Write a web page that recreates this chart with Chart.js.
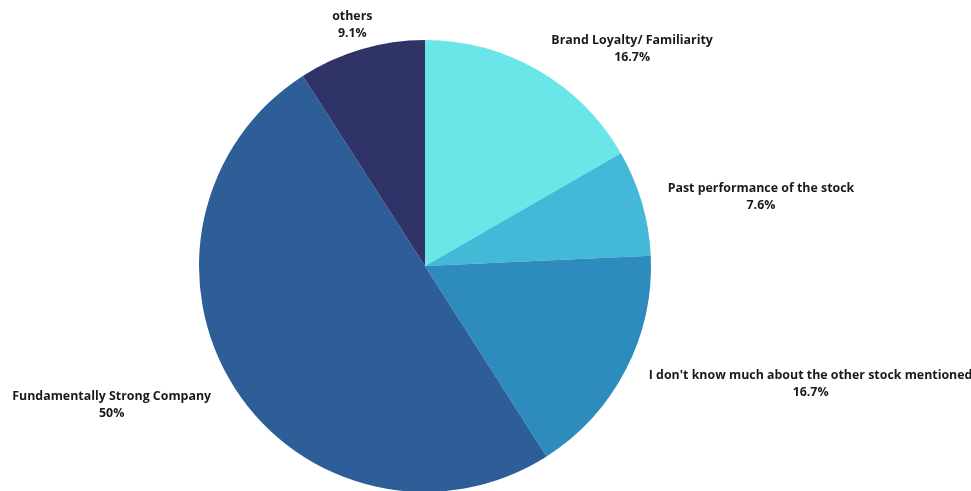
<!DOCTYPE html>
<html>
<head>
<meta charset="utf-8">
<script src="https://cdn.jsdelivr.net/npm/chart.js@4"></script>
<style>
    html, body { margin: 0; padding: 0; background: #ffffff; overflow: hidden; }
    #wrap { width: 971px; height: 492px; position: relative; }
</style>
</head>
<body>
<div id="wrap"><canvas id="pie-chart"></canvas></div>
<script>
// --- Data ---
const categories = [
    'Brand Loyalty/ Familiarity',
    'Past performance of the stock',
    "I don't know much about the other stock mentioned",
    'Fundamentally Strong Company',
    'others'
];
const shares = [16.7, 7.6, 16.7, 50, 9.1];
const shareLabels = ['16.7%', '7.6%', '16.7%', '50%', '9.1%'];
const sliceColors = ['#6be6e8', '#44b8d7', '#2d8bbd', '#2d5e98', '#2f3368'];

// label nudges from the slice's outer edge point (dx, dy)
const labelNudge = [[94, -21], [119, -6], [185, 14], [-123, 17], [-9, -24]];

// Draw the outside labels from each arc's own geometry
const outsideLabels = {
    id: 'outsideLabels',
    afterDatasetsDraw(chart) {
        const ctx = chart.ctx;
        const meta = chart.getDatasetMeta(0);
        ctx.save();
        ctx.fillStyle = '#1a1a1a';
        ctx.font = 'bold 12.4px "Open Sans", sans-serif';
        ctx.textAlign = 'center';
        ctx.textBaseline = 'middle';
        meta.data.forEach((arc, i) => {
            const mid = (arc.startAngle + arc.endAngle) / 2;
            const x = arc.x + Math.cos(mid) * arc.outerRadius + labelNudge[i][0];
            const y = arc.y + Math.sin(mid) * arc.outerRadius + labelNudge[i][1];
            ctx.fillText(categories[i], x, y - 8.5);
            ctx.fillText(shareLabels[i], x, y + 8.5);
        });
        ctx.restore();
    }
};

new Chart(document.getElementById('pie-chart').getContext('2d'), {
    type: 'pie',
    data: {
        labels: categories,
        datasets: [{
            data: shares,
            backgroundColor: sliceColors,
            borderWidth: 0
        }]
    },
    options: {
        responsive: true,
        maintainAspectRatio: false,
        animation: false,
        layout: { padding: { top: 40, bottom: 0, left: 199, right: 320 } },
        plugins: {
            legend: { display: false },
            tooltip: { enabled: false }
        }
    },
    plugins: [outsideLabels]
});
</script>
</body>
</html>
